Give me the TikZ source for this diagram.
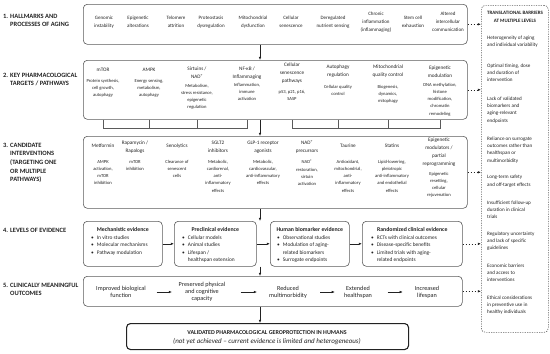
\documentclass[tikz,border=0pt]{standalone}
\usepackage{fontspec}
\setmainfont{Carlito}
\usetikzlibrary{arrows.meta,calc}
\definecolor{ink}{HTML}{222222}
\definecolor{edge}{HTML}{5A5A5A}
\newcommand\fs[2]{\fontsize{#1}{#2}\selectfont}
\begin{document}
\begin{tikzpicture}[x=1pt,y=-1pt,
  box/.style={draw=edge, line width=0.6pt, rounded corners=4pt, inner sep=0pt, anchor=north west},
  t/.style={align=center, inner sep=0pt, text=ink},
  lbl/.style={inner sep=0pt, anchor=north west, text=ink, font=\bfseries\fs{6.5}{8.6}},
  hm/.style={t, font=\fs{5}{8.2}},
  tt/.style={t, font=\fs{5.2}{7.8}},
  ds/.style={t, anchor=north, font=\fs{4.6}{7.2}},
  ev/.style={t, font=\bfseries\fs{5.8}{7}},
  bl/.style={inner sep=0pt, anchor=north west, text=ink, font=\fs{5.4}{7.4}},
  oc/.style={t, font=\fs{6.2}{7.2}},
  br/.style={inner sep=0pt, anchor=north west, text=ink, align=left, font=\fs{5.1}{7.3}},
  arr/.style={-{Latex[length=3.2pt,width=2.6pt]}, line width=0.6pt, draw=ink},
  darr/.style={arr, dash pattern=on 1.5pt off 1.5pt},
  comb/.style={draw=edge, line width=0.5pt}
]
\useasboundingbox (0,0) rectangle (550,354);

% ---------- left labels ----------
\node[lbl] (L1) at (3,12) {\begin{tabular}{@{}l@{\hspace{2pt}}l@{}}1.&HALLMARKS AND\\&PROCESSES OF AGING\end{tabular}};
\node[lbl] (L2) at (3,71) {\begin{tabular}{@{}l@{\hspace{2pt}}l@{}}2.&KEY PHARMACOLOGICAL\\&TARGETS / PATHWAYS\end{tabular}};
\node[lbl] (L3) at (3,141) {\begin{tabular}{@{}l@{\hspace{2pt}}l@{}}3.&CANDIDATE\\&INTERVENTIONS\\&(TARGETING ONE\\&OR MULTIPLE\\&PATHWAYS)\end{tabular}};
\node[lbl] (L4) at (3,226) {\begin{tabular}{@{}l@{\hspace{2pt}}l@{}}4.&LEVELS OF EVIDENCE\end{tabular}};
\node[lbl] (L5) at (3,281) {\begin{tabular}{@{}l@{\hspace{2pt}}l@{}}5.&CLINICALLY MEANINGFUL\\&OUTCOMES\end{tabular}};

% ---------- boxes ----------
\node[box, minimum width=384pt, minimum height=40pt] (r1) at (83,4) {};
\node[box, minimum width=384pt, minimum height=59pt] (r2) at (83,60) {};
\node[box, minimum width=384pt, minimum height=72pt] (r3) at (83,136) {};
\node[box, minimum width=79pt, minimum height=45pt] (b1) at (83,221) {};
\node[box, minimum width=82pt, minimum height=45pt] (b2) at (174,221) {};
\node[box, minimum width=79pt, minimum height=45pt] (b3) at (270,221) {};
\node[box, minimum width=100pt, minimum height=45pt] (b4) at (362,221) {};
\node[box, minimum width=379pt, minimum height=30pt] (r5) at (83,276) {};
\node[box, draw=ink, line width=1.1pt, minimum width=282pt, minimum height=26pt] (fin) at (126,323) {};
\node[box, dash pattern=on 1.2pt off 1.2pt, minimum width=67pt, minimum height=327pt] (bar) at (481,5) {};

% ---------- row 1 ----------
\node[hm] (h1) at (104,22) {Genomic\\instability};
\node[hm] (h2) at (138,22) {Epigenetic\\alterations};
\node[hm] (h3) at (176,22) {Telomere\\attrition};
\node[hm] (h4) at (211,22) {Proteostasis\\dysregulation};
\node[hm] (h5) at (253,22) {Mitochondrial\\dysfunction};
\node[hm] (h6) at (291,22) {Cellular\\senescence};
\node[hm] (h7) at (333,22) {Deregulated\\nutrient sensing};
\node[hm] (h8) at (376,22) {Chronic\\inflammation\\(inflammaging)};
\node[hm] (h9) at (413,22) {Stem cell\\exhaustion};
\node[hm] (h10) at (448,22) {Altered\\intercellular\\communication};

% ---------- row 2 ----------
\node[tt] (p1) at (103,70) {mTOR};
\node[tt] (p2) at (149,70) {AMPK};
\node[tt] (p3) at (197,73) {Sirtuins /\\NAD\textsuperscript{+}};
\node[tt] (p4) at (247,73) {NF-κB /\\Inflammaging};
\node[tt] (p5) at (292,73) {Cellular\\senescence\\pathways};
\node[tt] (p6) at (338,71.5) {Autophagy\\regulation};
\node[tt] (p7) at (388,71.5) {Mitochondrial\\quality control};
\node[tt] (p8) at (440,71.5) {Epigenetic\\modulation};
\node[ds] (d1) at (103,79) {Protein synthesis,\\cell growth,\\autophagy};
\node[ds] (d2) at (149,79) {Energy sensing,\\metabolism,\\autophagy};
\node[ds] (d3) at (197,84) {Metabolism,\\stress resistance,\\epigenetic\\regulation};
\node[ds] (d4) at (247,83) {Inflammation,\\immune\\activation};
\node[ds] (d5) at (292,90) {p53, p21, p16,\\SASP};
\node[ds] (d6) at (338,85) {Cellular quality\\control};
\node[ds] (d7) at (388,85) {Biogenesis,\\dynamics,\\mitophagy};
\node[ds] (d8) at (440,83) {DNA methylation,\\histone\\modification,\\chromatin\\remodeling};

\draw[comb] (r2.south -| d1) -- ++(0,9) -| (r2.south -| d4);
\draw[comb] (r2.south -| d2) -- ++(0,9);
\draw[comb] (r2.south -| d3) -- ++(0,9);
\draw[comb] (r2.south -| d5) -- ++(0,9) -| (r2.south -| d8);
\draw[comb] (r2.south -| d6) -- ++(0,9);
\draw[comb] (r2.south -| d7) -- ++(0,9);

% ---------- row 3 ----------
\node[tt] (c1) at (103,146) {Metformin};
\node[tt] (c2) at (135,147) {Rapamycin /\\Rapalogs};
\node[tt] (c3) at (177,146) {Senolytics};
\node[tt] (c4) at (218,147) {SGLT2\\inhibitors};
\node[tt] (c5) at (263,147) {GLP-1 receptor\\agonists};
\node[tt] (c6) at (307,147) {NAD\textsuperscript{+}\\precursors};
\node[tt] (c7) at (348,146) {Taurine};
\node[tt] (c8) at (392,146) {Statins};
\node[tt] (c9) at (439,152) {Epigenetic\\modulators /\\partial\\reprogramming};
\node[ds] (e1) at (103,160) {AMPK\\activation,\\mTOR\\inhibition};
\node[ds] (e2) at (135,160) {mTOR\\inhibition};
\node[ds] (e3) at (177,160) {Clearance of\\senescent\\cells};
\node[ds] (e4) at (218,160) {Metabolic,\\cardiorenal,\\anti-\\inflammatory\\effects};
\node[ds] (e5) at (263,160) {Metabolic,\\cardiovascular,\\anti-inflammatory\\effects};
\node[ds] (e6) at (307,160) {NAD\textsuperscript{+}\\restoration,\\sirtuin\\activation};
\node[ds] (e7) at (348,160) {Antioxidant,\\mitochondrial,\\anti-\\inflammatory\\effects};
\node[ds] (e8) at (392,160) {Lipid-lowering,\\pleiotropic\\anti-inflammatory\\and endothelial\\effects};
\node[ds] (e9) at (439,172) {Epigenetic\\resetting,\\cellular\\rejuvenation};

% ---------- row 4 ----------
\node[ev] (v1) at (b1.north |- 0,229) {Mechanistic evidence};
\node[ev] (v2) at (b2.north |- 0,229) {Preclinical evidence};
\node[ev] (v3) at (b3.north |- 0,229) {Human biomarker evidence};
\node[ev] (v4) at (b4.north |- 0,229) {Randomized clinical evidence};
\node[bl] (w1) at (91,234) {\begin{tabular}{@{}l@{\hspace{3pt}}l@{}}\textbullet&In vitro studies\\\textbullet&Molecular mechanisms\\\textbullet&Pathway modulation\end{tabular}};
\node[bl] (w2) at (182,234) {\begin{tabular}{@{}l@{\hspace{3pt}}l@{}}\textbullet&Cellular models\\\textbullet&Animal studies\\\textbullet&Lifespan /\\&healthspan extension\end{tabular}};
\node[bl] (w3) at (277,234) {\begin{tabular}{@{}l@{\hspace{3pt}}l@{}}\textbullet&Observational studies\\\textbullet&Modulation of aging-\\&related biomarkers\\\textbullet&Surrogate endpoints\end{tabular}};
\node[bl] (w4) at (371,234) {\begin{tabular}{@{}l@{\hspace{3pt}}l@{}}\textbullet&RCTs with clinical outcomes\\\textbullet&Disease-specific benefits\\\textbullet&Limited trials with aging-\\&related endpoints\end{tabular}};
\draw[arr] (b1.east) -- (b2.west);
\draw[arr] (b2.east) -- (b3.west);
\draw[arr] (b3.east) -- (b4.west);

% ---------- row 5 ----------
\node[oc] (o1) at (121,292) {Improved biological\\function};
\node[oc] (o2) at (202,292) {Preserved physical\\and cognitive\\capacity};
\node[oc] (o3) at (288,292) {Reduced\\multimorbidity};
\node[oc] (o4) at (358,292) {Extended\\healthspan};
\node[oc] (o5) at (427,292) {Increased\\lifespan};
\draw[arr] ($(o1)!0.44!(o2)$) -- ($(o1)!0.63!(o2)$);
\draw[arr] ($(o2)!0.45!(o3)$) -- ($(o2)!0.64!(o3)$);
\draw[arr] ($(o3)!0.46!(o4)$) -- ($(o3)!0.67!(o4)$);
\draw[arr] ($(o4)!0.43!(o5)$) -- ($(o4)!0.65!(o5)$);

% ---------- final ----------
\node[t, font=\bfseries\fs{6}{7}] (f1) at (267,332.5) {VALIDATED PHARMACOLOGICAL GEROPROTECTION IN HUMANS};
\node[t, font=\itshape\fs{7}{7}] (f2) at (267,341.5) {(not yet achieved – current evidence is limited and heterogeneous)};

% ---------- main flow ----------
\coordinate (ax) at (260,0);
\draw[arr] (r1.south -| ax) -- (r2.north -| ax);
\draw[arr] (r2.south -| ax) -- (r3.north -| ax);
\draw[arr] (r3.south -| ax) -- (b1.north -| ax);
\draw[arr] (b2.south -| ax) -- (r5.north -| ax);
\draw[arr] (r5.south -| ax) -- (fin.north -| ax);

% ---------- barriers ----------
\node[t, anchor=north, font=\bfseries\fs{5}{7.3}] (bt) at (515,11.5) {TRANSLATIONAL BARRIERS\\AT MULTIPLE LEVELS};
\node[br] (q1) at (487,35.5) {Heterogeneity of aging\\and individual variability};
\node[br] (q2) at (487,63.5) {Optimal timing, dose\\and duration of\\intervention};
\node[br] (q3) at (487,96.5) {Lack of validated\\biomarkers and\\aging-relevant\\endpoints};
\node[br] (q4) at (487,136.5) {Reliance on surrogate\\outcomes rather than\\healthspan or\\multimorbidity};
\node[br] (q5) at (487,175) {Long-term safety\\and off-target effects};
\node[br] (q6) at (487,200.5) {Insufficient follow-up\\duration in clinical\\trials};
\node[br] (q7) at (487,231.5) {Regulatory uncertainty\\and lack of specific\\guidelines};
\node[br] (q8) at (487,263.5) {Economic barriers\\and access to\\interventions};
\node[br] (q9) at (487,295.5) {Ethical considerations\\in preventive use in\\healthy individuals};

\draw[darr] (r1.east) -- (r1.east -| bar.west);
\draw[darr] (r2.east) -- (r2.east -| bar.west);
\draw[darr] (r3.east) -- (r3.east -| bar.west);
\draw[darr] (b4.east) -- (b4.east -| bar.west);
\draw[darr] (r5.east) -- (r5.east -| bar.west);
\end{tikzpicture}
\end{document}
